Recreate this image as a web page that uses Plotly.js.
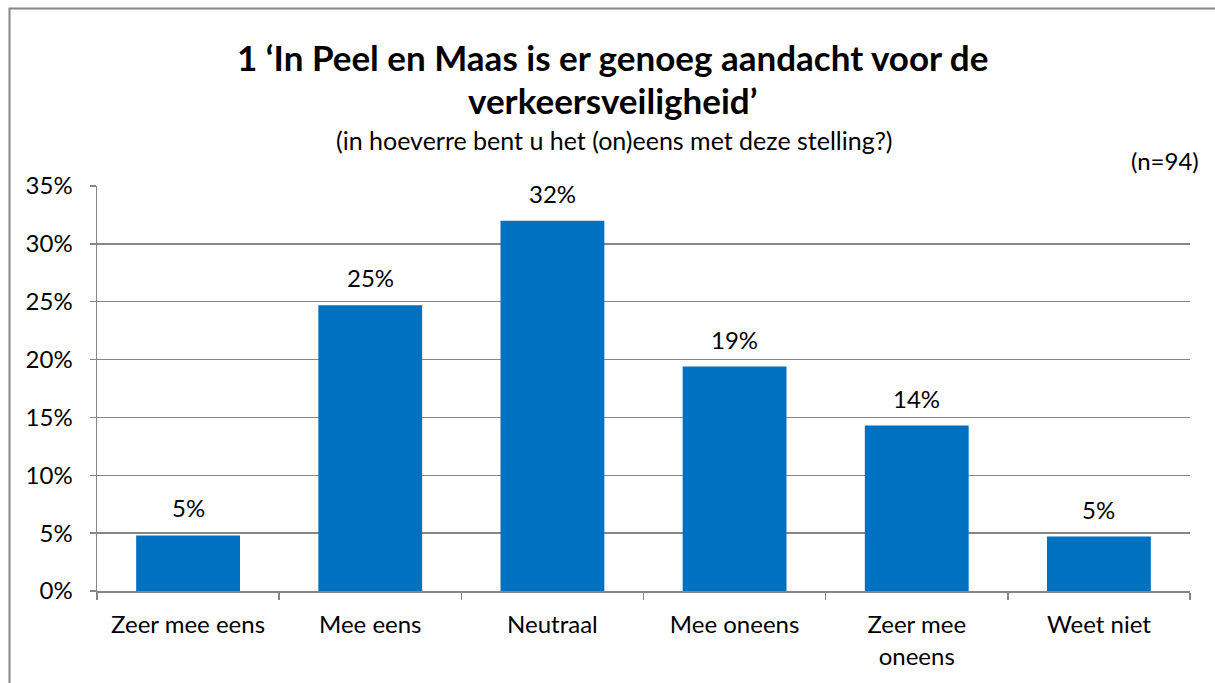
<!DOCTYPE html>
<html>
<head>
<meta charset="utf-8">
<script src="https://cdn.plot.ly/plotly-3.0.1.min.js"></script>
<style>html,body{margin:0;padding:0;background:#fff;}#chart{width:1215px;height:683px;}</style>
</head>
<body>
<div id="chart"></div>
<script>
const categories = ["Zeer mee eens", "Mee eens", "Neutraal", "Mee oneens", "Zeer mee<br>oneens", "Weet niet"];
const values = [4.8, 24.7, 32.0, 19.4, 14.3, 4.7];
const valueLabels = ["5%", "25%", "32%", "19%", "14%", "5%"];
const yTickVals = [0, 5, 10, 15, 20, 25, 30, 35];
const yTickText = ["0%", "5%", "10%", "15%", "20%", "25%", "30%", "35%"];
const titleLine1 = "1 \u2018In Peel en Maas is er genoeg aandacht voor de";
const titleLine2 = "verkeersveiligheid\u2019";
const subtitle = "(in hoeverre bent u het (on)eens met deze stelling?)";
const nLabel = "(n=94)";

const W = 1215, H = 683;
const L = 97, R = 1190, T = 186, B = 591;
const pw = R - L, ph = B - T;
const px = x => (x - L) / pw;
const py = y => (B - y) / ph;
const FONT = "Lato, 'Open Sans', sans-serif";
const FS = 24;

const annotations = [];
categories.forEach((c, i) => {
  annotations.push({x: c, y: values[i], xref: 'x', yref: 'y', text: valueLabels[i], showarrow: false,
    yanchor: 'bottom', yshift: 11, font: {family: FONT, size: FS, color: '#000'}});
});
annotations.push({xref: 'paper', yref: 'paper', x: px(612), y: py(57), text: '<b>' + titleLine1 + '</b>', showarrow: false,
  xanchor: 'center', yanchor: 'middle', font: {family: FONT, size: 35, color: '#000'}});
annotations.push({xref: 'paper', yref: 'paper', x: px(612), y: py(100), text: '<b>' + titleLine2 + '</b>', showarrow: false,
  xanchor: 'center', yanchor: 'middle', font: {family: FONT, size: 35, color: '#000'}});
annotations.push({xref: 'paper', yref: 'paper', x: px(614), y: py(140), text: subtitle, showarrow: false,
  xanchor: 'center', yanchor: 'middle', font: {family: FONT, size: 25, color: '#000'}});
annotations.push({xref: 'paper', yref: 'paper', x: px(1201), y: py(161), text: nLabel, showarrow: false,
  xanchor: 'right', yanchor: 'middle', font: {family: FONT, size: FS, color: '#000'}});

const data = [{
  type: 'bar', x: categories, y: values,
  marker: {color: '#0070C0', line: {width: 0}},
  hoverinfo: 'skip'
}];

const layout = {
  width: W, height: H,
  margin: {l: L, r: W - R, t: T, b: H - B, pad: 0},
  paper_bgcolor: '#fff', plot_bgcolor: '#fff',
  bargap: 0.43,
  showlegend: false,
  font: {family: FONT, size: FS, color: '#000'},
  xaxis: {
    type: 'category', tickson: 'boundaries', ticks: 'outside', ticklen: 7, tickcolor: '#868686', tickwidth: 1.5,
    showline: true, linecolor: '#868686', linewidth: 1.5, showgrid: false, zeroline: false,
    tickfont: {family: FONT, size: FS, color: '#000'}, ticklabelstandoff: 12, fixedrange: true
  },
  yaxis: {
    range: [0, 35], tickvals: yTickVals, ticktext: yTickText, ticks: 'outside', ticklen: 6,
    tickcolor: '#868686', tickwidth: 1.5, showline: true, linecolor: '#868686', linewidth: 1.5,
    showgrid: true, gridcolor: '#868686', gridwidth: 1.5, zeroline: false,
    tickfont: {family: FONT, size: FS, color: '#000'}, ticklabelstandoff: 12, fixedrange: true
  },
  annotations: annotations,
  shapes: [{type: 'rect', xref: 'paper', yref: 'paper', x0: px(9.5), x1: px(1230), y0: py(700), y1: py(8.5),
    line: {color: '#868686', width: 2}, fillcolor: 'rgba(0,0,0,0)', layer: 'above'}]
};

Plotly.newPlot('chart', data, layout, {displayModeBar: false, staticPlot: true});
</script>
</body>
</html>
